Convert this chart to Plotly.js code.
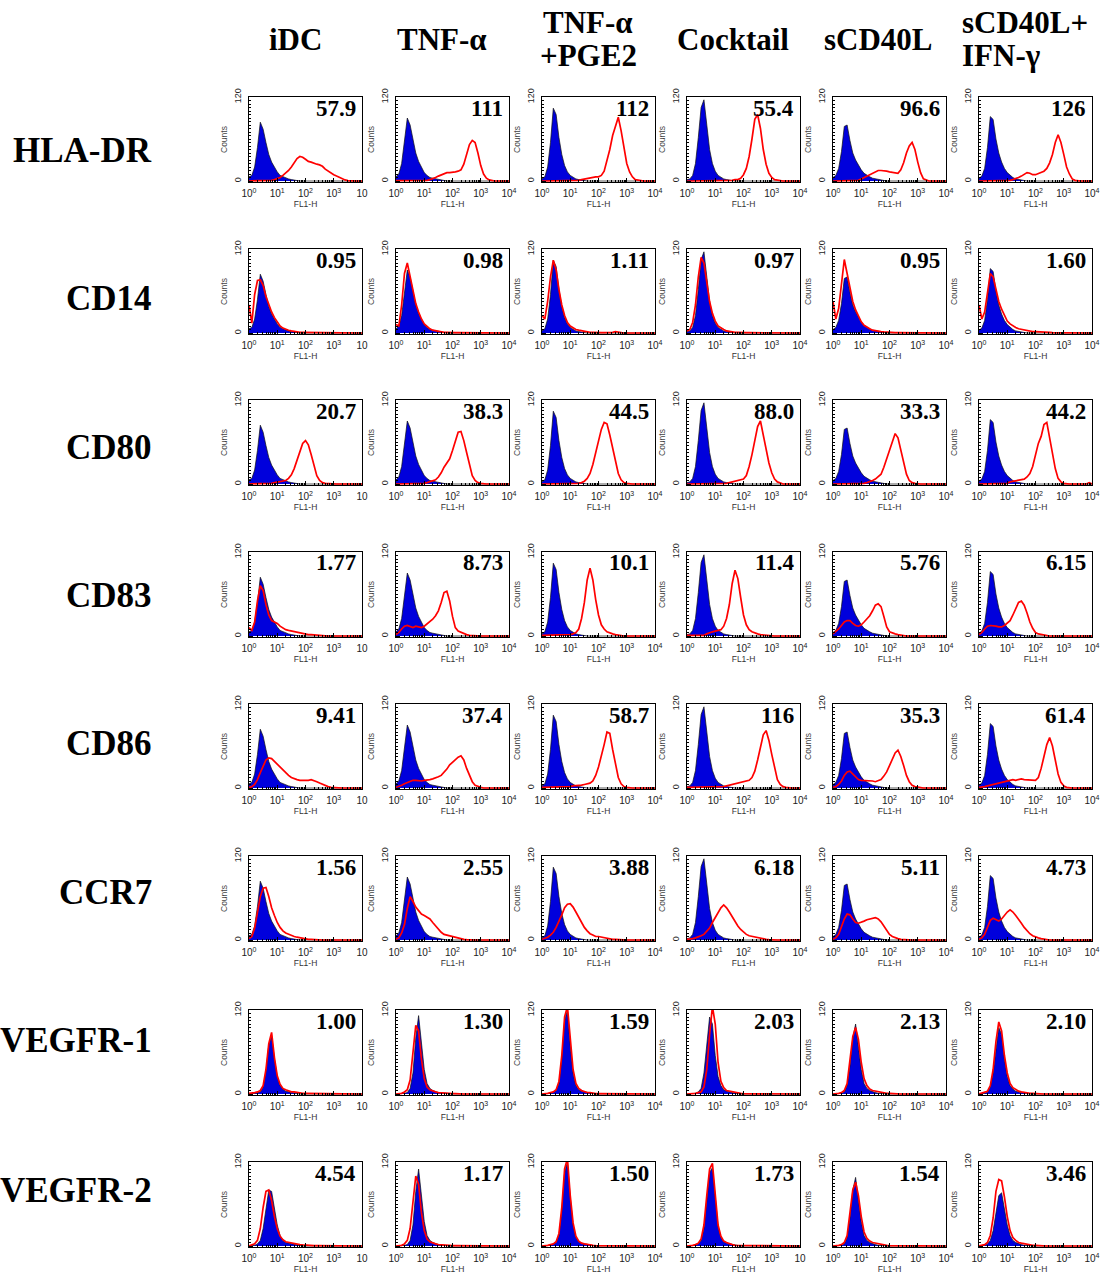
<!DOCTYPE html>
<html>
<head>
<meta charset="utf-8">
<script src="https://cdn.plot.ly/plotly-3.0.1.min.js"></script>
<style>html,body{margin:0;padding:0;background:#fff}#chart{width:1105px;height:1274px}</style>
</head>
<body>
<div id="chart"></div>
<script>
// ---------- DATA ----------
const conditionLines = [['iDC'], ['TNF-α'], ['TNF-α', '+PGE2'], ['Cocktail'], ['sCD40L'], ['sCD40L+', 'IFN-γ']];
const markers = ['HLA-DR', 'CD14', 'CD80', 'CD83', 'CD86', 'CCR7', 'VEGFR-1', 'VEGFR-2'];
const mfiValues = [
  ['57.9', '111', '112', '55.4', '96.6', '126'],
  ['0.95', '0.98', '1.11', '0.97', '0.95', '1.60'],
  ['20.7', '38.3', '44.5', '88.0', '33.3', '44.2'],
  ['1.77', '8.73', '10.1', '11.4', '5.76', '6.15'],
  ['9.41', '37.4', '58.7', '116', '35.3', '61.4'],
  ['1.56', '2.55', '3.88', '6.18', '5.11', '4.73'],
  ['1.00', '1.30', '1.59', '2.03', '2.13', '2.10'],
  ['4.54', '1.17', '1.50', '1.73', '1.54', '3.46']
];
// FL1-H channel positions, in decades (10^x)
const fl1Exponent = [0,0.1,0.2,0.3,0.4,0.5,0.6,0.7,0.8,0.9,
  1,1.1,1.2,1.3,1.4,1.5,1.6,1.7,1.8,1.9,
  2,2.1,2.2,2.3,2.4,2.5,2.6,2.7,2.8,2.9,
  3,3.1,3.2,3.3,3.4,3.5,3.6,3.7,3.8,3.9, 4];
const xTickVals = [1, 10, 100, 1000, 10000];
const xTickText = ['10<sup>0</sup>', '10<sup>1</sup>', '10<sup>2</sup>', '10<sup>3</sup>', '10<sup>4</sup>'];

// isotype controls (blue), one per condition, rows HLA-DR .. CCR7
const isoBlue = [
  [6,8,20,48,84,74,55,38,27,19, 13,8,6,4,3,2,1,0.5,0,0, 0,0,0,0,0,0,0,0,0,0, 0,0,0,0,0,0,0,0,0,0, 0],
  [6,10,25,55,90,80,58,40,28,19, 12,8,5,4,3,2,1,0.5,0,0, 0,0,0,0,0,0,0,0,0,0, 0,0,0,0,0,0,0,0,0,0, 0],
  [3,6,20,55,104,95,62,38,22,13, 8,5,3,2,1,0.5,0,0,0,0, 0,0,0,0,0,0,0,0,0,0, 0,0,0,0,0,0,0,0,0,0, 0],
  [2,3,8,25,62,105,116,78,45,25, 14,8,5,3,2,1,0.5,0,0,0, 0,0,0,0,0,0,0,0,0,0, 0,0,0,0,0,0,0,0,0,0, 0],
  [5,8,18,42,78,80,58,40,30,22, 16,11,8,6,4,3,2,1,0.5,0, 0,0,0,0,0,0,0,0,0,0, 0,0,0,0,0,0,0,0,0,0, 0],
  [4,7,18,48,92,88,60,40,27,18, 12,8,5,3,2,1,0.5,0,0,0, 0,0,0,0,0,0,0,0,0,0, 0,0,0,0,0,0,0,0,0,0, 0]
];
const hladrRed = [
  [0,0.5,0.5,0.5,0.5,0.5,0.5,1,1,2, 3,5,8,11,15,20,26,32,35,34, 31,28,27,25,24,23,21,17,14,11, 9,7,5,3,1.5,0.5,0,0,0,0, 0],
  [0.5,0.5,0.5,0.5,0.5,0.5,0.5,0.5,0.5,0.5, 0.5,1,2,3,5,7,9,11,12,12, 12,13,14,16,24,38,52,58,55,40, 22,10,4,1.5,0.5,0,0,0,0,0, 0],
  [0,0,0,0,0,0,0,0.5,0.5,0.5, 0.5,0.5,0.5,1,2,3,3,4,5,6, 6,8,14,28,45,65,80,91,72,45, 25,13,6,2,1,0,0,0,0,0, 0],
  [0,0,0,0,0,0,0,1,1,1, 0.5,0.5,0.5,0.5,0.5,1,1,2,2,4, 9,18,35,60,88,95,75,45,24,11, 5,2,1,0,0,0,0,0,0,0, 0],
  [0,0,0,0,0,1,1,1,1,1, 3,5,7,9,11,13,15,15,15,14, 13,12,11,11,16,26,40,50,55,45, 27,12,3,1,0,0,0,0,0,0, 0],
  [0,0,0,0,0,0,0,0.5,0.5,0.5, 1,1,2,3,5,7,10,12,11,9, 9,11,12,14,18,26,38,55,66,55, 38,20,10,3,1,0,0,0,0,0, 0]
];
const cd14Red = [
  [40,14,55,75,76,68,52,40,30,22, 15,10,7,5,4,3,2,2,1,1, 1,0.5,0.5,0.5,0.5,0.5,0,0,0,0, 0,0,0,0,0,0,0,0,0,0, 0],
  [12,10,40,85,100,80,58,42,30,20, 13,9,6,4,3,2,1.5,1,1,0.5, 0.5,0.5,0.5,0.5,0.5,0,0,0,0,0, 0,0,0,0,0,0,0,0,0,0, 0],
  [25,20,45,80,104,90,62,40,25,15, 10,7,5,4,3,2,1.5,1,1,0.5, 0.5,0.5,0.5,0.5,0.5,1,2,1,0.5,0, 0,0,0,0,0,0,0,0,0,0, 0],
  [3,5,15,40,80,108,100,72,45,28, 17,10,7,5,3,2,1.5,1,1,0.5, 0.5,0.5,0.5,0.5,0.5,0.5,0.5,0,0,0, 0,0,0,0,0,0,0,0.5,0.5,0, 0],
  [45,20,35,70,105,85,62,45,33,24, 16,11,8,6,4,3,2,2,1.5,1, 1,0.5,0.5,0.5,0.5,0.5,1,0.5,0,0, 0,0,0,0,0,0,0,0,0,0, 0],
  [40,20,30,60,85,80,62,45,34,25, 17,13,10,8,6,5,4,3,3,2, 2,2,1.5,1,1,1,0.5,0.5,0.5,0, 0,0,0,0,0,0,0,0,0,0, 0]
];
const cd80Red = [
  [0,0.5,0.5,0.5,0.5,0.5,1,1,1,2, 3,4,5,5,8,13,22,34,47,58, 62,56,42,25,12,5,2,1,0.5,0, 0,0,0,0,0,0,0,0,1,0, 0],
  [0,0,0,0,0,1,1,1,1,1, 1,2,3,4,6,10,16,24,31,36, 48,62,74,75,62,45,26,12,5,2, 1,0,0,0,0,0,0,0,0,0, 0],
  [0,0,0,1,1,1,1,1,1,1, 1,1,1,1,2,4,8,15,28,45, 62,78,88,86,70,50,30,15,6,2, 1,0,0,0,0,0,0,0,0,0, 0],
  [0,0,0,0,0,1,1,1,1,1, 1,1,1,1,1,2,3,3,4,5, 7,12,25,42,62,82,90,70,50,30, 16,7,3,1,0,0,0,0,0,0, 0],
  [0,0,0,0,0,1,1,1,1,1, 1,1,2,3,5,7,10,14,24,36, 48,62,72,66,48,30,14,5,2,1, 0,0,0,0,0,0,0,0,0,0, 0],
  [0,0,0,0,0,1,1,1,1,1, 1,3,4,5,5,6,7,10,15,25, 40,58,68,85,88,65,45,22,8,3, 1,0,0,0,0,0,0,0,0,2, 0]
];
const cd83Red = [
  [12,8,20,50,72,65,45,30,22,20, 18,14,11,9,8,7,6,5,4,3, 3,2,2,1.5,1,0.5,0,0,0,0, 0,0,0,0,0,0,0,0,0,0, 0],
  [2,5,10,14,15,14,12,14,13,12, 14,17,20,24,29,36,48,62,64,50, 28,12,7,5,3,2,1,0.5,0,0, 0,0,0,0,0,0,0,0,0,0, 0],
  [1,1,1,1,1,1,1,1,1,2, 2,3,5,10,25,48,80,97,80,52, 30,16,10,6,4,3,2,1,0,0, 0,0,0,0,0,0,0,0,0,0, 0],
  [1,1,1,1,1,1,1,3,5,6, 7,8,9,14,25,45,75,94,82,55, 30,16,9,6,4,3,2,1.5,1,0, 0,0,0,0,0,0,0,0,0,0, 0],
  [3,6,10,15,20,22,22,18,15,14, 16,20,24,29,36,44,46,42,28,13, 6,4,3,2,1,0,0,0,0,0, 0,0,0,0,0,0,0,0,0,0, 0],
  [2,5,10,14,15,15,14,13,13,15, 18,22,30,40,48,50,44,33,20,11, 5,3,2,1,0,0,0,0,0,0, 0,0,0,0,0,0,0,0,0,0, 0]
];
const cd86Red = [
  [1,2,5,12,22,32,40,43,42,38, 34,30,25,21,18,15,13,12,11,11, 10,11,12,11,9,7,5,3,2,1, 0.5,0,0,0,0,0,0,0,0,0, 0],
  [1,2,4,6,8,10,11,11,10,10, 11,11,12,13,14,16,18,22,27,33, 37,41,44,46,40,28,17,9,4,2, 1,0,0,0,0,0,0,0,0,0, 0],
  [1,1,1,1,1,1,1,1,1,1, 2,3,3,4,4,5,6,7,10,18, 30,45,62,80,78,55,32,15,6,2, 1,0,0,0,0,0,0,0,0,0, 0],
  [1,1,1,1,1,1,1,1,1,1, 1,1,1,2,3,4,5,6,7,8, 8,9,11,15,24,40,58,76,82,68, 48,28,12,5,2,1,0,0,0,0, 0],
  [1,2,5,10,18,23,24,20,15,12, 11,11,10,10,10,9,10,12,17,23, 32,42,50,54,45,32,18,9,4,2, 1,0,0,0,0,0,0,0,0,0, 0],
  [1,1,2,3,4,5,6,7,8,10, 11,12,12,11,12,13,12,12,11,11, 11,15,28,45,62,72,60,40,20,8, 3,1,0,0,0,0,0,0,0,0, 0]
];
const ccr7Red = [
  [2,5,17,40,62,74,75,62,46,35, 25,18,13,10,8,7,5,4,3,2, 2,1,1,0.5,0,0,0,0,0,0, 0,0,0,0,0,0,0,0,0,0, 0],
  [1,3,10,22,45,62,55,47,42,37, 35,33,30,25,20,15,11,8,7,5, 4,3,2,1.5,1,0.5,0,0,0,0, 0,0,0,0,0,0,0,0,0,0, 0],
  [1,2,4,7,11,18,26,36,46,51, 52,47,40,32,24,18,13,9,7,5, 5,4,3,2,2,1,1,0.5,0,0, 0,0,0,0,0,0,0,0,0,0, 0],
  [1,1,2,3,4,6,8,12,17,25, 32,40,46,50,46,40,33,26,20,15, 11,8,6,5,4,3,2,1.5,1,0.5, 0,0,0,0,0,0,0,0,0,0, 0],
  [1,3,8,18,30,37,36,30,25,24, 25,27,29,30,31,32,30,26,20,13, 8,5,3,2,1,0.5,0,0,0,0, 0,0,0,0,0,0,0,0,0,0, 0],
  [1,3,8,18,28,31,29,27,30,35, 40,43,40,35,30,24,18,13,9,6, 4,3,2,1,0.5,0,0,0,0,0, 0,0,0,0,0,0,0,0,0,0, 0]
];
const vegfr1Blue = [
  [0,0,1,2,3,10,32,70,84,50, 25,12,7,4,3,2,1,0.5,0,0, 0,0,0,0,0,0,0,0,0,0, 0,0,0,0,0,0,0,0,0,0, 0],
  [0,0,0,1,2,8,30,80,112,75, 35,15,8,5,3,2,1.5,1,0.5,0, 0,0,0,0,0,0,0,0,0,0, 0,0,0,0,0,0,0,0,0,0, 0],
  [0,0,0,1,2,5,15,50,105,120, 70,30,12,6,4,3,2,1,0.5,0, 0,0,0,0,0,0,0,0,0,0, 0,0,0,0,0,0,0,0,0,0, 0],
  [0,0,0,1,3,8,30,75,110,100, 55,25,12,6,4,3,2,1,0.5,0, 0,0,0,0,0,0,0,0,0,0, 0,0,0,0,0,0,0,0,0,0, 0],
  [0,0,0,1,3,12,40,80,100,70, 35,15,8,5,3,2,1,0.5,0,0, 0,0,0,0,0,0,0,0,0,0, 0,0,0,0,0,0,0,0,0,0, 0],
  [0,0,1,3,10,30,65,95,85,50, 25,12,7,4,3,2,1,0.5,0,0, 0,0,0,0,0,0,0,0,0,0, 0,0,0,0,0,0,0,0,0,0, 0]
];
const vegfr1Red = [
  [1,1,2,3,5,12,35,72,88,52, 26,14,8,6,4,3,3,2,2,1, 1,1,0.5,0.5,0.5,0.5,0,0,0,0, 0,0,0,0,0,0,0,0,0,0, 0],
  [0,0,1,3,6,20,60,98,90,50, 22,10,6,4,3,2,1.5,1,1,0.5, 0.5,0.5,0,0,0,0,0,0,0,0, 0,0,0,0,0,0,0,0,0,0, 0],
  [0,0,1,2,3,6,18,55,110,125, 75,35,15,8,5,3,2,2,1,0.5, 0.5,0.5,0.5,0,0,0,0,0,0,0, 0,0,0,0,0,0,0,0,0,0, 0],
  [0,0,0,1,2,3,10,35,85,125, 100,45,18,9,5,4,3,2,2,1, 0.5,0.5,0,0,0,0,0,0,0,0, 0,0,0,0,0,0,0,0,0,0, 0],
  [0,0,1,2,5,15,45,82,95,78, 45,22,12,7,5,4,3,2,2,1, 1,0.5,0.5,0.5,0,0,0,0,0,0, 0,0,0,0,0,0,0,0,0,0, 0],
  [0,1,2,4,12,35,75,103,90,55, 30,15,9,6,4,3,2,2,1,1, 0.5,0.5,0.5,0,0,0,0,0,0,0, 0,0,0,0,0,0,0,0,0,0, 0]
];
const vegfr2Blue = [
  [0,0,1,3,8,25,55,80,78,55, 30,15,8,5,4,3,2,1,0.5,0, 0,0,0,0,0,0,0,0,0,0, 0,0,0,0,0,0,0,0,0,0, 0],
  [0,0,0,1,2,8,30,78,110,75, 35,15,8,5,3,2,1,0.5,0,0, 0,0,0,0,0,0,0,0,0,0, 0,0,0,0,0,0,0,0,0,0, 0],
  [0,0,0,1,2,5,15,50,105,120, 70,30,12,6,4,3,2,1,0.5,0, 0,0,0,0,0,0,0,0,0,0, 0,0,0,0,0,0,0,0,0,0, 0],
  [0,0,0,1,3,8,25,65,105,112, 65,28,12,6,4,3,2,1,0.5,0, 0,0,0,0,0,0,0,0,0,0, 0,0,0,0,0,0,0,0,0,0, 0],
  [0,0,0,1,3,12,40,80,98,70, 35,15,8,5,3,2,1,0.5,0,0, 0,0,0,0,0,0,0,0,0,0, 0,0,0,0,0,0,0,0,0,0, 0],
  [0,0,1,3,8,22,50,72,76,55, 30,15,8,5,3,2,1,0.5,0,0, 0,0,0,0,0,0,0,0,0,0, 0,0,0,0,0,0,0,0,0,0, 0]
];
const vegfr2Red = [
  [0,1,3,8,25,55,78,80,65,42, 25,14,9,6,5,4,3,2,2,1.5, 1,1,0.5,0.5,0.5,0.5,0.5,0,0,0, 0,0,0,0,0,0,0,0.5,0,0, 0],
  [0,0,1,3,8,25,65,100,88,48, 22,10,6,4,3,2,1.5,1,1,0.5, 0.5,0.5,0.5,0,0,0,0,0,0,0, 0,0,0,0,0,0,0,0,0,0, 0],
  [0,0,1,2,3,6,18,55,110,125, 72,33,14,7,4,3,2,1,1,0.5, 0.5,0,0,0,0,0,0,0,0,0, 0,0,0,0,0,0,0,0,0,0, 0],
  [0,0,1,2,4,10,30,72,110,118, 70,30,14,7,5,3,2,1,1,0.5, 0.5,0.5,0,0,0,0,0,0,0,0, 0,0,0,0,0,0,0,0,0,0, 0],
  [0,0,1,2,5,15,45,80,91,72, 42,20,11,7,5,4,3,2,1,1, 0.5,0.5,0.5,0,0,0,0,0,0,0, 0,0,0,0,0,0,0,0,0,0, 0],
  [0,1,2,5,15,40,78,95,93,70, 42,22,12,8,5,4,3,2,2,1, 1,0.5,0.5,0.5,0,0,0,0,0,0, 0,0,0,0,0,0,0,0,0,0, 0]
];

// ---------- ASSEMBLY ----------
const redByRow = [hladrRed, cd14Red, cd80Red, cd83Red, cd86Red, ccr7Red, vegfr1Red, vegfr2Red];
const blueByRow = [isoBlue, isoBlue, isoBlue, isoBlue, isoBlue, isoBlue, vegfr1Blue, vegfr2Blue];

const W = 1105, H = 1274;
const colLeft = [249, 396, 542, 687, 833, 979];
const panelW = 113;
const rowZero = [181, 333, 484, 636, 788, 940, 1094, 1246];
const panelH = 84;
const headerX = [295, 442, 588, 733, 878, 1025];
const rowLabelY = [150, 298, 447, 595, 743, 892, 1040, 1190];

const fl1 = fl1Exponent.map(e => Math.pow(10, e));
const minorX = [];
[1, 10, 100, 1000].forEach(d => { for (let k = 2; k <= 9; k++) minorX.push(d * k); });

const px = v => v / W;
const py = v => 1 - v / H;

const traces = [];
const layout = {
  width: W, height: H,
  margin: {l: 0, r: 0, t: 0, b: 0},
  paper_bgcolor: '#fff', plot_bgcolor: '#fff',
  showlegend: false,
  font: {family: 'Liberation Sans, Arial, sans-serif', color: '#222', size: 10},
  annotations: []
};

const serif = 'Liberation Serif, Times New Roman, serif';

for (let r = 0; r < markers.length; r++) {
  for (let c = 0; c < conditionLines.length; c++) {
    const n = r * 6 + c + 1;
    const sfx = n === 1 ? '' : String(n);
    traces.push({
      x: fl1, y: blueByRow[r][c], type: 'scatter', mode: 'lines',
      fill: 'tozeroy', fillcolor: '#0000DC',
      line: {color: '#101010', width: 0.7},
      xaxis: 'x' + sfx, yaxis: 'y' + sfx, hoverinfo: 'skip'
    });
    traces.push({
      x: fl1, y: redByRow[r][c], type: 'scatter', mode: 'lines',
      line: {color: '#FF0000', width: 1.7},
      xaxis: 'x' + sfx, yaxis: 'y' + sfx, hoverinfo: 'skip'
    });
    const ticktext = xTickText.slice();
    if (c === 0 || (r === 7 && c === 3)) ticktext[4] = '10';
    layout['xaxis' + sfx] = {
      type: 'log', range: [0, 4],
      domain: [px(colLeft[c]), px(colLeft[c] + panelW)],
      anchor: 'y' + sfx,
      showline: true, linecolor: '#000', linewidth: 1, mirror: true,
      showgrid: false, zeroline: false,
      tickmode: 'array', tickvals: xTickVals, ticktext: ticktext,
      ticks: 'inside', ticklen: 4, tickwidth: 1, tickcolor: '#000',
      tickfont: {size: 10, color: '#222'}, ticklabelstandoff: 2,
      minor: {tickmode: 'array', tickvals: minorX, ticks: 'inside', ticklen: 2, tickwidth: 1, tickcolor: '#000', showgrid: false},
      title: {text: 'FL1-H', font: {size: 8.5, color: '#333'}, standoff: 3},
      fixedrange: true
    };
    layout['yaxis' + sfx] = {
      range: [-1.5, 120],
      domain: [py(rowZero[r] + 1.05), py(rowZero[r] - panelH)],
      anchor: 'x' + sfx,
      showline: true, linecolor: '#000', linewidth: 1, mirror: true,
      showgrid: false, zeroline: false,
      tickmode: 'array', tickvals: [0, 120], ticktext: ['0', '120'],
      ticks: 'inside', ticklen: 4, tickwidth: 1, tickcolor: '#000',
      tickangle: -90, tickfont: {size: 9, color: '#222'}, ticklabelstandoff: 3,
      minor: {tickmode: 'linear', tick0: 0, dtick: 5, ticks: 'inside', ticklen: 2, tickwidth: 1, tickcolor: '#000', showgrid: false},
      title: {text: 'Counts', font: {size: 8.5, color: '#444'}, standoff: 4},
      fixedrange: true
    };
    layout.annotations.push({
      xref: 'paper', yref: 'paper',
      x: px(colLeft[c] + panelW - 4), y: py(rowZero[r] - panelH + 11),
      xanchor: 'right', yanchor: 'middle', showarrow: false,
      text: '<b>' + mfiValues[r][c] + '</b>',
      font: {family: serif, size: 23, color: '#000'}
    });
  }
  layout.annotations.push({
    xref: 'paper', yref: 'paper', x: px(154), y: py(rowLabelY[r]),
    xanchor: 'right', yanchor: 'middle', showarrow: false,
    text: '<b>' + markers[r] + '</b>',
    font: {family: serif, size: 35, color: '#000'}
  });
}

for (let c = 0; c < conditionLines.length; c++) {
  const lines = conditionLines[c];
  if (lines.length === 1) {
    layout.annotations.push({
      xref: 'paper', yref: 'paper', x: px(headerX[c]), y: py(40),
      xanchor: 'center', yanchor: 'middle', showarrow: false,
      text: '<b>' + lines[0] + '</b>',
      font: {family: serif, size: 31, color: '#000'}
    });
  } else {
    const leftAligned = c === 5;
    lines.forEach((t, i) => {
      layout.annotations.push({
        xref: 'paper', yref: 'paper',
        x: leftAligned ? px(960) : px(headerX[c]), y: py(i === 0 ? 22 : 56),
        xanchor: leftAligned ? 'left' : 'center', yanchor: 'middle', showarrow: false,
        text: '<b>' + t + '</b>',
        font: {family: serif, size: 31, color: '#000'}
      });
    });
  }
}

Plotly.newPlot('chart', traces, layout, {displayModeBar: false, staticPlot: true});
</script>
</body>
</html>
